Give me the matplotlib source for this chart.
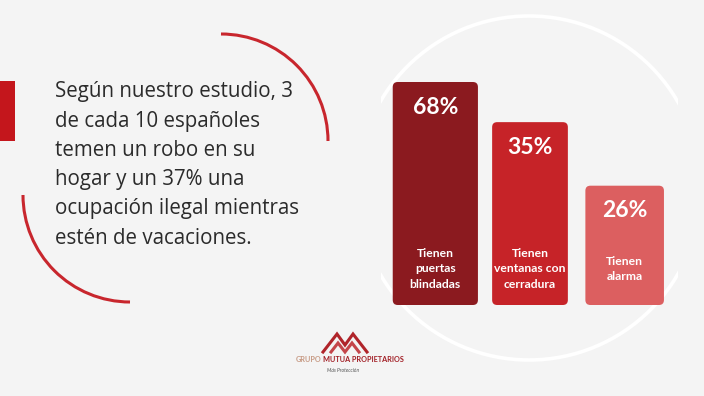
import matplotlib
matplotlib.use("Agg")
import matplotlib.pyplot as plt
from matplotlib.patches import Arc, Circle, Rectangle, FancyBboxPatch


# ===================================================
# DATA
# ===================================================

percentages = [68, 35, 26]
labels = ["Tienen\npuertas\nblindadas", "Tienen\nventanas con\ncerradura", "Tienen\nalarma"]
# drawn bar lengths in the infographic (not proportional to the percentages)
display_heights = [100, 82, 53.5]

intro_text = ("Según nuestro estudio, 3\n"
              "de cada 10 españoles\n"
              "temen un robo en su\n"
              "hogar y un 37% una\n"
              "ocupación ilegal mientras\n"
              "estén de vacaciones.")


# ===================================================
# STYLE
# ===================================================

W, H = 704, 396
BG = "#f4f4f4"
RED = "#c8262d"
BAR_COLORS = ["#8b1a1f", "#c62328", "#dc5f60"]
BAR_WIDTHS = [0.9, 0.8, 0.83]

plt.rcParams["font.family"] = ["Lato", "DejaVu Sans"]


def py(y):
    """pixel row (from top) -> deco axes y"""
    return H - y


# ===================================================
# FIGURE
# ===================================================

fig = plt.figure(figsize=(W / 100, H / 100), dpi=100, facecolor=BG)

# decoration layer in pixel units
deco = fig.add_axes([0, 0, 1, 1], zorder=0)
deco.set_xlim(0, W)
deco.set_ylim(0, H)
deco.axis("off")
deco.set_facecolor(BG)

# red tab at the left edge
deco.add_patch(Rectangle((0, py(141)), 15, 60, color="#c4161c", lw=0))

# two red quarter arcs around the text
deco.add_patch(Arc((221, py(141)), 214, 214, theta1=0, theta2=90, color=RED, lw=2.2))
deco.add_patch(Arc((130, py(195)), 214, 214, theta1=180, theta2=270, color=RED, lw=2.2))

# faint white circle behind the bars, cut at the sides
ring = Circle((529, py(188)), 172, fill=False, ec="white", lw=2.6)
deco.add_patch(ring)
ring.set_clip_path(Rectangle((381, 0), 297, H, transform=deco.transData))

# intro text
deco.text(55, py(165), intro_text, ha="left", va="center", fontsize=14.8,
          family=["Open Sans", "DejaVu Sans"], color="#2b2b2b", linespacing=1.52)

# logo
logo_outer = [(323, 352), (337, 334), (345, 345), (353, 334), (367, 352)]
logo_inner = [(331, 352), (338, 343), (345, 352), (352, 343), (359, 352)]
for pts, col in [(logo_outer, "#b0242a"), (logo_inner, "#c4454a")]:
    deco.plot([p[0] for p in pts], [py(p[1]) for p in pts], color=col, lw=2.2,
              solid_joinstyle="miter")
deco.text(321, py(359), "GRUPO", ha="right", va="center", fontsize=5.2,
          fontweight="bold", color="#c79a84")
deco.text(323, py(359), "MUTUA PROPIETARIOS", ha="left", va="center", fontsize=5.2,
          fontweight="bold", color="#a11d24")
deco.text(343, py(370), "Más Protección", ha="center", va="center", fontsize=3.6,
          style="italic", color="#555555")


# ===================================================
# BARS
# ===================================================

ax = fig.add_axes([388 / W, (H - 305) / H, 284 / W, 223 / H], zorder=1)
ax.set_xlim(-0.5, 2.5)
ax.set_ylim(0, 100)
ax.axis("off")
ax.patch.set_alpha(0)

x = list(range(len(percentages)))
bars = ax.bar(x, display_heights, width=BAR_WIDTHS, color=BAR_COLORS)

# pixel size of one data unit, to keep the rounded corners circular
px_x = 284 / 3.0
px_y = 223 / 100.0
radius_px = 5

for bar, col, pct, lab in zip(bars, BAR_COLORS, percentages, labels):
    bx, by = bar.get_x(), bar.get_y()
    bw, bh = bar.get_width(), bar.get_height()
    bar.set_visible(False)
    ax.add_patch(FancyBboxPatch(
        (bx, by), bw, bh,
        boxstyle=f"round,pad=0,rounding_size={radius_px / px_x}",
        mutation_aspect=px_x / px_y, fc=col, ec="none"))

    cx = bx + bw / 2
    ax.annotate(f"{pct}%", (cx, by + bh), xytext=(0, -25), textcoords="offset pixels",
                ha="center", va="center", fontsize=16.5, fontweight="bold", color="white")
    ax.annotate(lab, (cx, by), xytext=(0, 36), textcoords="offset pixels",
                ha="center", va="center", fontsize=8.7, fontweight="bold", color="white",
                linespacing=1.45)

fig.savefig("out.png", dpi=100, facecolor=BG)
